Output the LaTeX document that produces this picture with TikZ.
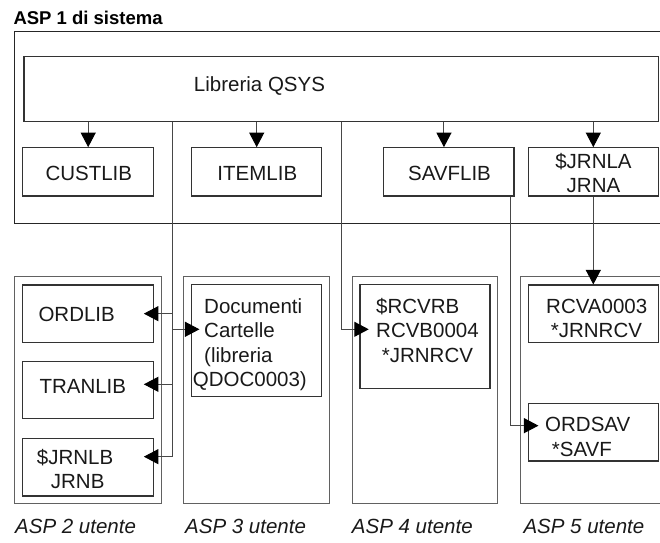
\documentclass[tikz,border=0pt]{standalone}
\usepackage{fontspec}
\setmainfont{Liberation Sans}
\usetikzlibrary{arrows.meta,fit}

% multi-line text block whose baseline is that of its first line
\newcommand\mlines[2][l]{\begin{tabular}[t]{@{}#1@{}}#2\end{tabular}}
\newcommand\libfont{\fontsize{20.5}{24.4}\selectfont}

\tikzset{
  libbox/.style={draw=black!80, line width=1.1pt, inner sep=0pt},
  aspbox/.style={draw=black!62, line width=1.4pt, inner sep=0pt},
  libtext/.style={font=\libfont, inner sep=0pt, text=black!90},
  asplabel/.style={font=\fontsize{20.5}{24}\selectfont\itshape, inner sep=0pt, anchor=base west, text=black!90},
  wire/.style={draw=black!72, line width=1pt},
  arrow/.style={wire, -{Triangle[length=14.5pt,width=15pt,color=black]}},
}

\begin{document}
\begin{tikzpicture}[x=1pt,y=-1pt]
\useasboundingbox (0,0) rectangle (660,542);

% system ASP (its right side runs past the page edge)
\node[font=\fontsize{18.5}{22}\selectfont\bfseries, inner sep=0pt, anchor=base west]
  (title) at (13.3,24.5) {ASP 1 di sistema};
\node[draw=black!85, line width=1.1pt, inner sep=0pt, fit={(14.7,31.7) (680,223.3)}] (asp1) {};

% QSYS library and the libraries it holds
\node[libbox, fit={(24,56.7) (658.3,121.7)}] (qsys) {};
\node[libtext, anchor=base] (qsyslabel) at (259.5,91.7) {Libreria QSYS};

\node[libbox, fit={(22.7,147.7) (153.7,196)}] (custlib) {};
\node[libtext, anchor=base] (custlibtext) at (88.8,180) {CUSTLIB};
\node[libbox, fit={(191.7,147.7) (321.7,196)}] (itemlib) {};
\node[libtext, anchor=base] (itemlibtext) at (257.3,180) {ITEMLIB};
\node[libbox, fit={(383.3,147.7) (514,196)}] (savflib) {};
\node[libtext, anchor=base] (savflibtext) at (449.5,180) {SAVFLIB};
\node[libbox, fit={(528.3,147.7) (658.3,196)}] (jrnla) {};
\node[libtext, anchor=base] (jrnlatext) at (593.5,168.3) {\mlines[c]{\$JRNLA\\JRNA}};

% user ASPs
\node[aspbox, fit={(14.7,276.7) (161.7,503.3)}] (asp2) {};
\node[aspbox, fit={(183.3,276.7) (329.3,503.3)}] (asp3) {};
\node[aspbox, fit={(352.3,276.7) (497.7,503.3)}] (asp4) {};
\node[aspbox, fit={(520.7,276.7) (680,503.3)}] (asp5) {};

\node[asplabel] (asp2label) at (15,533.3) {ASP 2 utente};
\node[asplabel] (asp3label) at (185,533.3) {ASP 3 utente};
\node[asplabel] (asp4label) at (351.7,533.3) {ASP 4 utente};
\node[asplabel] (asp5label) at (523.3,533.3) {ASP 5 utente};

% objects in the user ASPs
\node[libbox, fit={(22.7,285) (153.7,342.3)}] (ordlib) {};
\node[libtext, anchor=base west] (ordlibtext) at (38.3,321.7) {ORDLIB};
\node[libbox, fit={(22.7,361.7) (153.7,418.3)}] (tranlib) {};
\node[libtext, anchor=base west] (tranlibtext) at (39.3,393.3) {TRANLIB};
\node[libbox, fit={(22.7,438.3) (153.7,496)}] (jrnlb) {};
\node[libtext, anchor=base west] (jrnlbtext) at (36.7,464) {\mlines{\$JRNLB\\\hspace{14pt}JRNB}};

\node[libbox, fit={(191.7,284.3) (321.7,396.7)}] (docs) {};
\node[libtext, anchor=base west] (docstext) at (204,313.3)
  {\mlines{Documenti\\Cartelle\\(libreria\\\hspace{-11.3pt}QDOC0003)}};

\node[libbox, fit={(360,284.3) (490,388.3)}] (rcvrb) {};
\node[libtext, anchor=base west] (rcvrbtext) at (376,313.3)
  {\mlines{\$RCVRB\\RCVB0004\\\hspace{5.7pt}*JRNRCV}};

\node[libbox, fit={(528.3,285) (658.3,342.3)}] (rcva) {};
\node[libtext, anchor=base west] (rcvatext) at (546,313.3) {\mlines{RCVA0003\\\hspace{4.7pt}*JRNRCV}};
\node[libbox, fit={(528.3,403.3) (658.3,461)}] (ordsav) {};
\node[libtext, anchor=base west] (ordsavtext) at (545,431.7) {\mlines{ORDSAV\\\hspace{6.7pt}*SAVF}};

% connector routing points
\coordinate (busA) at (172,0);
\coordinate (busB) at (341.7,0);
\coordinate (ordlib-in) at ([xshift=-10.4pt]ordlib.east);
\coordinate (tranlib-in) at ([xshift=-10.4pt,yshift=5.7pt]tranlib.east);
\coordinate (jrnlb-in) at ([xshift=-10.4pt,yshift=10.5pt]jrnlb.east);
\coordinate (docs-in) at ([xshift=8.3pt,yshift=11.2pt]docs.west);
\coordinate (rcvrb-in) at ([xshift=9.3pt,yshift=7pt]rcvrb.west);
\coordinate (ordsav-in) at ([xshift=10.7pt,yshift=6.5pt]ordsav.west);

% QSYS to the libraries in the system ASP
\draw[arrow] (qsys.south -| custlib.north) -- (custlib.north);
\draw[arrow] (qsys.south -| itemlib.north) -- (itemlib.north);
\draw[arrow] ([xshift=-4.7pt]qsys.south -| savflib.north) -- ([xshift=-4.7pt]savflib.north);
\draw[arrow] (qsys.south -| jrnla.north) -- (jrnla.north);

% QSYS to the user ASPs 2 and 3
\draw[wire] (qsys.south -| busA) -- (busA |- jrnlb-in);
\draw[arrow] (busA |- ordlib-in) -- (ordlib-in);
\draw[arrow] (busA |- tranlib-in) -- (tranlib-in);
\draw[arrow] (busA |- jrnlb-in) -- (jrnlb-in);
\draw[arrow] (busA |- docs-in) -- (docs-in);

% QSYS to ASP 4, journal to ASP 5, save file library to ASP 5
\draw[arrow] (qsys.south -| busB) |- (rcvrb-in);
\draw[arrow] (jrnla.south) -- (rcva.north);
\draw[arrow] ([xshift=-4pt]savflib.south east) |- (ordsav-in);
\end{tikzpicture}
\end{document}
